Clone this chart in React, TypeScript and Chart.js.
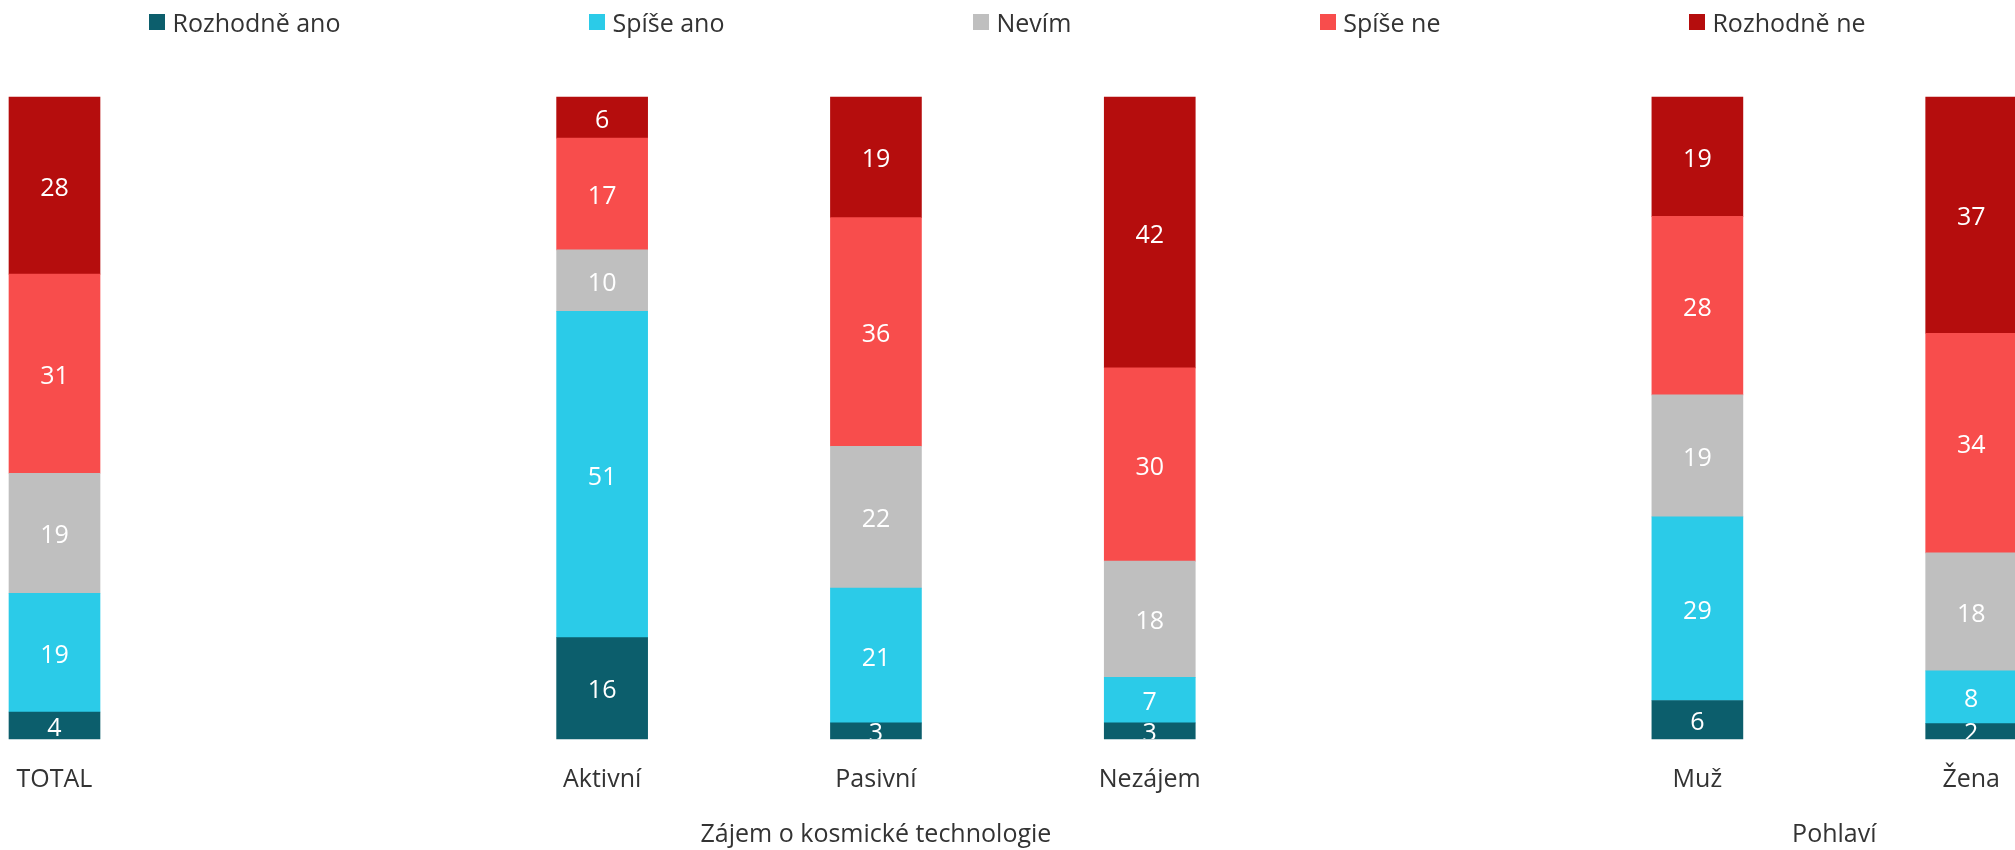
import React, { useEffect, useRef } from 'react';
import { Chart, registerables } from 'chart.js';

Chart.register(...registerables);

const categories = ['TOTAL', '', 'Aktivní', 'Pasivní', 'Nezájem', '', 'Muž', 'Žena'];
const seriesNames = ['Rozhodně ano', 'Spíše ano', 'Nevím', 'Spíše ne', 'Rozhodně ne'];
const seriesColors = ['#0C5E6C', '#2BCBE8', '#BFBFBF', '#F84D4C', '#B50D0D'];
const rozhodneAno = [4.2, null, 15.8, 2.5, 2.5, null, 6.0, 2.4];
const spiseAno = [18.5, null, 50.8, 21.0, 7.1, null, 28.6, 8.2];
const nevim = [18.7, null, 9.6, 22.1, 18.1, null, 19.0, 18.4];
const spiseNe = [31.0, null, 17.4, 35.6, 30.1, null, 27.8, 34.2];
const rozhodneNe = [27.6, null, 6.4, 18.8, 42.2, null, 18.6, 36.8];
const seriesValues = [rozhodneAno, spiseAno, nevim, spiseNe, rozhodneNe];
const groupLabels = ['Zájem o kosmické technologie', 'Pohlaví'];
const groupFrom = [2, 6];
const groupTo = [4, 7];

const FONT = '"Open Sans", "Noto Sans", sans-serif';
const TEXT_COLOR = '#333333';

const segLabelPlugin = {
  id: 'segLabels',
  afterDatasetsDraw(chart: any) {
    const { ctx, chartArea } = chart;
    ctx.save();
    ctx.beginPath();
    ctx.rect(chartArea.left - 200, chartArea.top, chartArea.right - chartArea.left + 400, chartArea.bottom - chartArea.top);
    ctx.clip();
    ctx.font = `25px ${FONT}`;
    ctx.fillStyle = '#ffffff';
    ctx.textAlign = 'center';
    ctx.textBaseline = 'middle';
    chart.data.datasets.forEach((ds: any, i: number) => {
      const meta = chart.getDatasetMeta(i);
      meta.data.forEach((el: any, j: number) => {
        const v = ds.data[j];
        if (v == null) return;
        const p = el.getProps(['x', 'y', 'base'], true);
        ctx.fillText(String(Math.round(v)), p.x, (p.y + p.base) / 2 + 3);
      });
    });
    ctx.restore();
  },
};

const groupLabelPlugin = {
  id: 'groupLabels',
  afterDraw(chart: any) {
    const { ctx } = chart;
    const xs = chart.scales.x;
    ctx.save();
    ctx.font = `25px ${FONT}`;
    ctx.fillStyle = TEXT_COLOR;
    ctx.textAlign = 'center';
    ctx.textBaseline = 'alphabetic';
    groupLabels.forEach((lbl, i) => {
      const x = (xs.getPixelForValue(groupFrom[i]) + xs.getPixelForValue(groupTo[i])) / 2;
      ctx.fillText(lbl, x, xs.bottom - 8);
    });
    ctx.restore();
  },
};

export default function App() {
  const ref = useRef<HTMLCanvasElement>(null);
  useEffect(() => {
    if (!ref.current) return;
    const chart = new Chart(ref.current, {
      type: 'bar',
      data: {
        labels: categories,
        datasets: seriesNames.map((name, i) => ({
          label: name,
          data: seriesValues[i],
          backgroundColor: seriesColors[i],
          borderWidth: 0,
          barThickness: 91,
          clip: false as any,
        })),
      },
      options: {
        responsive: false,
        animation: false,
        devicePixelRatio: 1,
        layout: { padding: { left: 54.5, right: 43.8, top: 97, bottom: 0 } },
        plugins: { legend: { display: false }, tooltip: { enabled: false } },
        scales: {
          x: {
            type: 'category',
            stacked: true,
            offset: false,
            grid: { display: false, drawTicks: false },
            border: { display: false },
            ticks: {
              font: { family: FONT, size: 25 },
              color: TEXT_COLOR,
              padding: 26,
              maxRotation: 0,
              autoSkip: false,
            },
            afterFit: (scale: any) => {
              scale.height = 111;
              scale.paddingLeft = 0;
              scale.paddingRight = 0;
            },
          },
          y: {
            stacked: true,
            display: false,
            min: 0,
            max: 100,
          },
        },
      },
      plugins: [segLabelPlugin, groupLabelPlugin],
    } as any);
    return () => chart.destroy();
  }, []);

  return (
    <div style={{ position: 'fixed', left: 0, top: 0, width: 2015, height: 850, overflow: 'hidden', background: '#fff' }}>
      <canvas ref={ref} width={2015} height={850} style={{ display: 'block', width: 2015, height: 850 }} />
      <div
        style={{
          position: 'absolute',
          top: 5,
          left: 0,
          width: 2015,
          display: 'flex',
          justifyContent: 'center',
          columnGap: 249,
        }}
      >
        {seriesNames.map((name, i) => (
          <div key={name} style={{ display: 'flex', alignItems: 'center' }}>
            <span style={{ width: 16, height: 16, background: seriesColors[i], marginRight: 7, display: 'inline-block' }} />
            <span style={{ font: `25px ${FONT}`, color: TEXT_COLOR, whiteSpace: 'nowrap', lineHeight: 'normal' }}>{name}</span>
          </div>
        ))}
      </div>
    </div>
  );
}
